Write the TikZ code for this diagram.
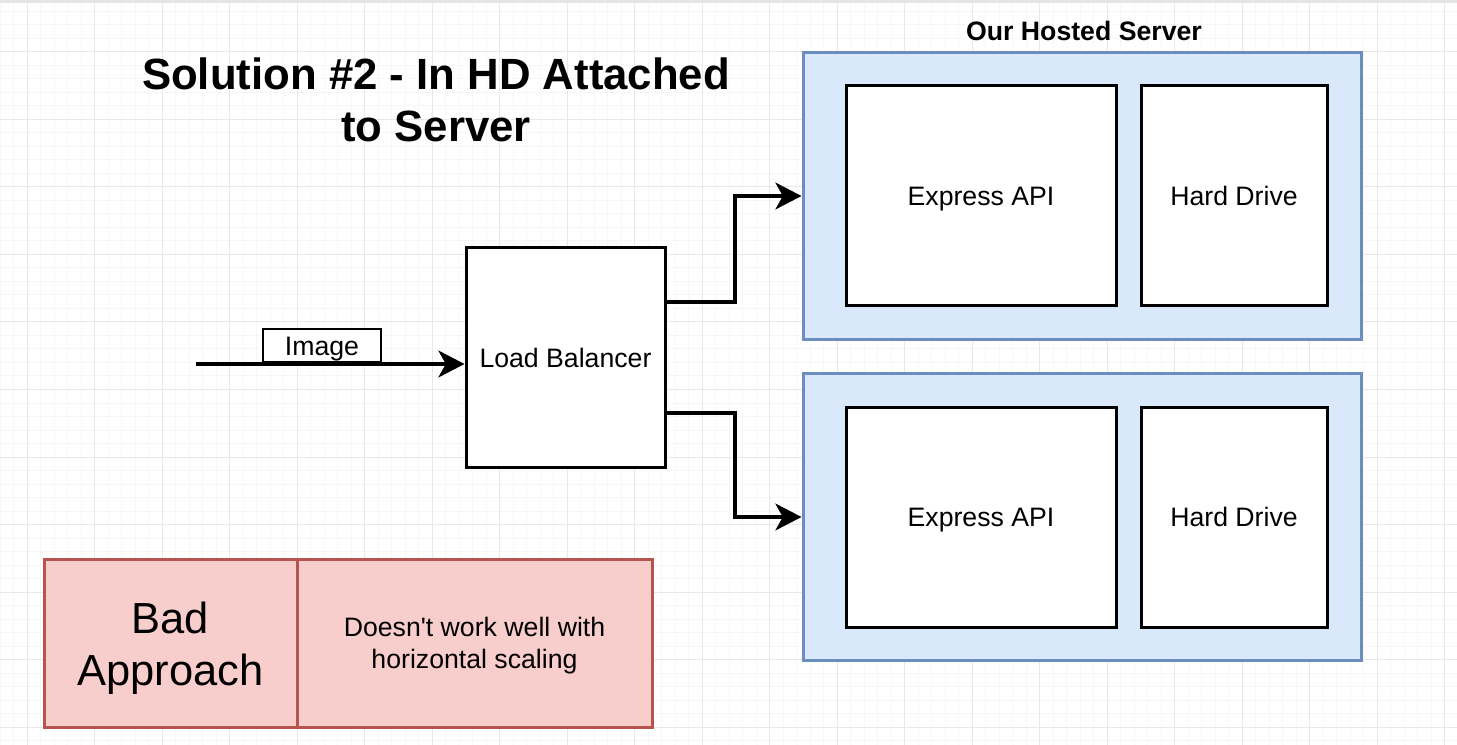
\documentclass[tikz,border=0pt]{standalone}
\usepackage{fontspec}
\setmainfont{Liberation Sans}
\usetikzlibrary{arrows.meta,calc}

\definecolor{srvfill}{RGB}{218,232,252}
\definecolor{srvline}{RGB}{108,142,191}
\definecolor{badfill}{RGB}{248,206,204}
\definecolor{badline}{RGB}{184,84,80}
\definecolor{gridminor}{RGB}{247,247,247}
\definecolor{gridmajor}{RGB}{232,232,232}

\begin{document}
\begin{tikzpicture}[x=0.75pt,y=0.75pt,yscale=-1,xscale=1,
  box/.style={draw=black,line width=2.25pt,fill=white,align=center,inner sep=0pt,text height=16.75pt,text depth=2pt,font=\fontsize{20}{24}\selectfont},
  server/.style={draw=srvline,fill=srvfill,line width=2.25pt,minimum width=418.5pt,minimum height=215.25pt,inner sep=0pt},
  badbox/.style={draw=badline,fill=badfill,line width=2.25pt,minimum height=126pt,inner sep=0pt,align=center},
  wire/.style={line width=3pt,-{Stealth[length=19.5pt,width=20pt,inset=5.5pt]}}
]
\useasboundingbox (0,0) rectangle (1457,745);

%Grid
\foreach \k in {0,...,107}
  \draw[gridminor,line width=0.75pt] ({\k*13.5},0) -- ({\k*13.5},745);
\foreach \k in {0,...,56}
  \draw[gridminor,line width=0.75pt] (0,{\k*13.5-2}) -- (1457,{\k*13.5-2});
\foreach \k in {2,7,...,107}
  \draw[gridmajor,line width=0.75pt] ({\k*13.5},0) -- ({\k*13.5},745);
\foreach \k in {4,9,...,54}
  \draw[gridmajor,line width=0.75pt] (0,{\k*13.5-2}) -- (1457,{\k*13.5-2});
\fill[gray!20] (0,0) rectangle (1457,3);

% Text Node
\node (title) at (436,100) [align=center,font=\fontsize{32.8}{39}\selectfont\bfseries] {Solution \#2 - In HD Attached\\to Server};
% Text Node
\node (hosted) at (1084,31) [font=\fontsize{20}{24}\selectfont\bfseries] {Our Hosted Server};

%Shape: Load Balancer
\node (lb) at (565.5,357.5) [box,minimum width=149.25pt,minimum height=164.25pt] {Load Balancer};

%Shape: Servers
\node (srvA) at (1082,196) [server] {};
\node (srvB) at (1082,517) [server] {};
\node (apiA) at (981,196) [box,minimum width=202.5pt,minimum height=165pt] {Express API};
\node (hdA) at (1234,196) [box,minimum width=139.5pt,minimum height=165pt] {Hard Drive};
\node (apiB) at (981,517) [box,minimum width=202.5pt,minimum height=165pt] {Express API};
\node (hdB) at (1234,517) [box,minimum width=139.5pt,minimum height=165pt] {Hard Drive};

%Incoming image
\coordinate (in) at (196,364);
\draw [wire] (in) -- (in -| lb.west);
\node (img) at (322,345.5) [box,line width=1.8pt,minimum width=88.5pt,minimum height=24.75pt] {Image};

%Connectors to servers
\draw [wire] ($(lb.north east)!0.25!(lb.south east)$) -- ++(68,0) |- (srvA.west);
\draw [wire] ($(lb.north east)!0.75!(lb.south east)$) -- ++(68,0) |- (srvB.west);

%Shape: Bad approach
\node (bad) at (170.5,643) [badbox,minimum width=189.75pt,font=\fontsize{32.6}{39}\selectfont] {\rule{0pt}{31pt}Bad\\Approach};
\node (note) at (474.5,643) [badbox,minimum width=266.25pt,font=\fontsize{20}{24}\selectfont] {\rule{0pt}{19pt}Doesn\textquotesingle t work well with\\horizontal scaling};

\end{tikzpicture}
\end{document}
